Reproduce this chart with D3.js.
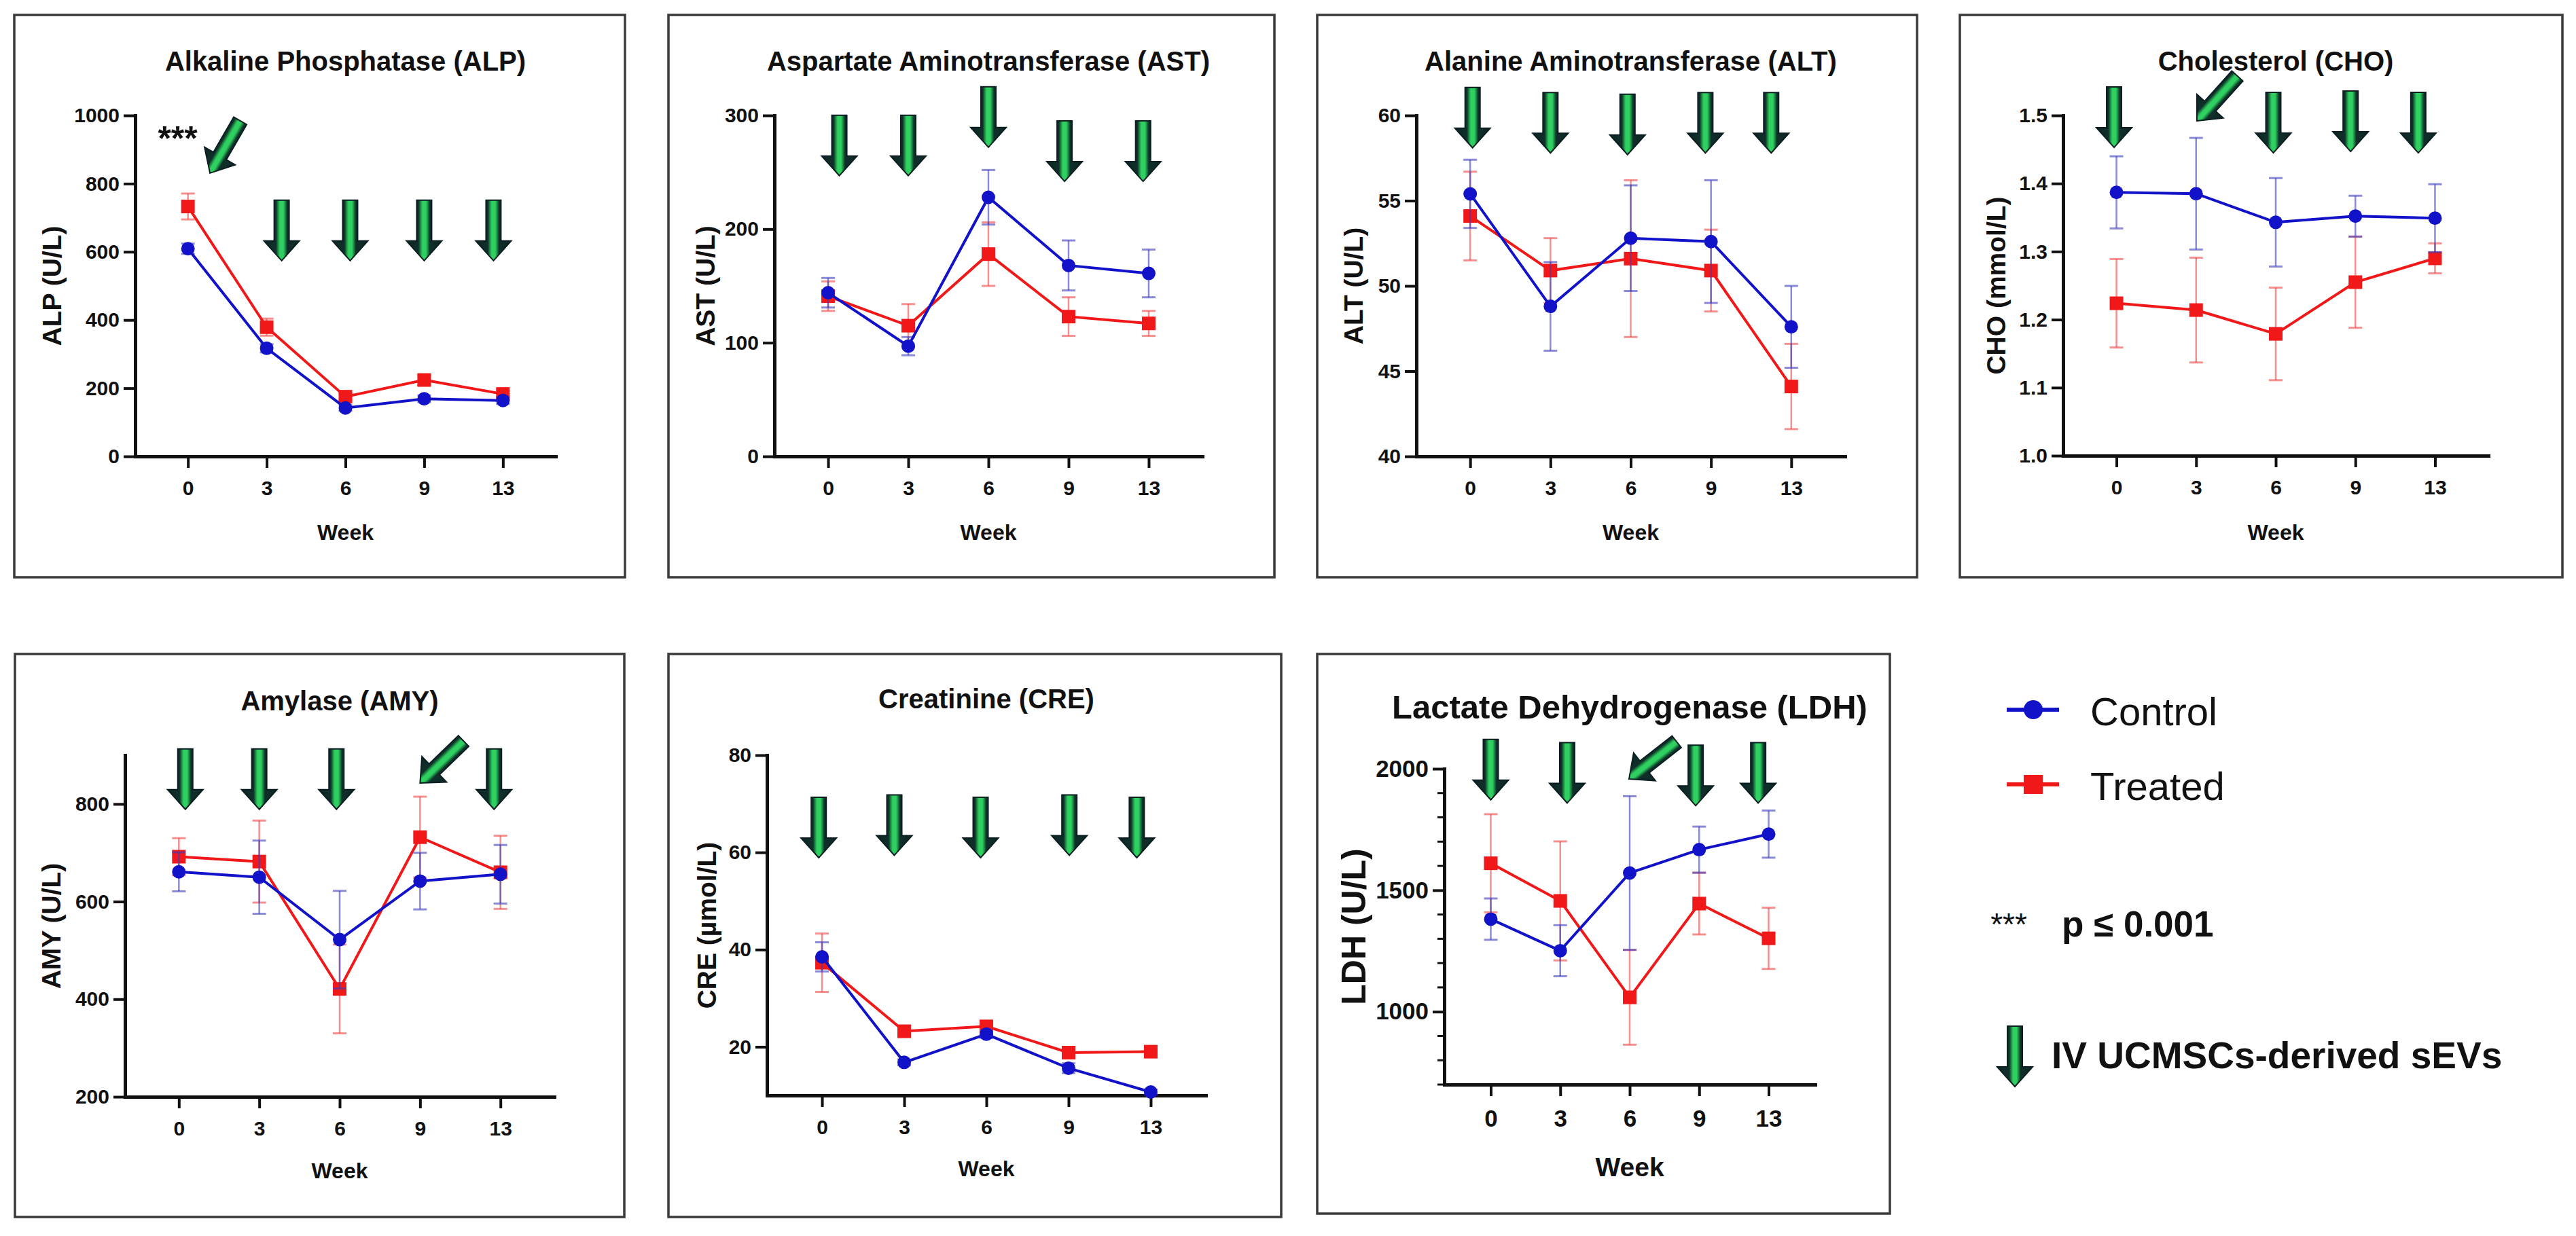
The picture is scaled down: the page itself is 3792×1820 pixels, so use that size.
<!DOCTYPE html>
<html>
<head>
<meta charset="utf-8">
<script src="https://cdn.jsdelivr.net/npm/d3@7"></script>
<style>
  body { margin: 0; background: #fff; }
  svg { display: block; }
</style>
</head>
<body>
<div id="chart"></div>
<script>
// ---- data ----
var weeks = ["0", "3", "6", "9", "13"];

var alpControl = [609, 317, 142, 169, 164];
var alpControlErr = [15, 12, 8, 10, 10];
var alpTreated = [733, 379, 175, 224, 183];
var alpTreatedErr = [38, 25, 10, 14, 10];

var astControl = [144, 97, 228, 168, 161];
var astControlErr = [13, 8, 24, 22, 21];
var astTreated = [141, 115, 178, 123, 117];
var astTreatedErr = [13, 19, 28, 17, 11];

var altControl = [55.4, 48.8, 52.8, 52.6, 47.6];
var altControlErr = [2.0, 2.6, 3.1, 3.6, 2.4];
var altTreated = [54.1, 50.9, 51.6, 50.9, 44.1];
var altTreatedErr = [2.6, 1.9, 4.6, 2.4, 2.5];

var choControl = [1.387, 1.385, 1.343, 1.352, 1.349];
var choControlErr = [0.053, 0.082, 0.065, 0.030, 0.050];
var choTreated = [1.224, 1.214, 1.179, 1.255, 1.290];
var choTreatedErr = [0.065, 0.077, 0.068, 0.067, 0.022];

var amyControl = [661, 650, 522, 642, 656];
var amyControlErr = [40, 75, 100, 58, 60];
var amyTreated = [692, 682, 421, 732, 660];
var amyTreatedErr = [38, 84, 91, 83, 75];

var creControl = [38.5, 16.8, 22.6, 15.6, 10.7];
var creControlErr = [3.0, 0.6, 0.8, 1.0, 0.5];
var creTreated = [37.3, 23.2, 24.2, 18.8, 19.0];
var creTreatedErr = [6.0, 0.8, 0.8, 0.8, 0.6];

var ldhControl = [1381, 1251, 1571, 1667, 1731];
var ldhControlErr = [85, 105, 316, 95, 97];
var ldhTreated = [1611, 1456, 1059, 1445, 1302];
var ldhTreatedErr = [202, 245, 195, 127, 126];

// y tick labels
var alpTicks = [0, 200, 400, 600, 800, 1000];
var astTicks = [0, 100, 200, 300];
var altTicks = [40, 45, 50, 55, 60];
var choTicks = [1.0, 1.1, 1.2, 1.3, 1.4, 1.5];
var amyTicks = [200, 400, 600, 800];
var creTicks = [20, 40, 60, 80];
var ldhTicks = [1000, 1500, 2000];
var ldhMinorTicks = [700, 800, 900, 1100, 1200, 1300, 1400, 1600, 1700, 1800, 1900];

// injection arrows: [week index position, value at arrow tip, rotation]
var alpArrows = [[0.28, 831, 30], [1.19, 574, 0], [2.06, 574, 0], [3.0, 574, 0], [3.88, 574, 0]];
var astArrows = [[0.14, 247, 0], [1.0, 247, 0], [2.0, 272, 0], [2.95, 242, 0], [3.93, 242, 0]];
var altArrows = [[0.03, 58.1, 0], [1.0, 57.8, 0], [1.96, 57.7, 0], [2.93, 57.8, 0], [3.75, 57.8, 0]];
var choArrows = [[-0.03, 1.453, 0], [1.01, 1.492, 42], [1.97, 1.445, 0], [2.94, 1.447, 0], [3.79, 1.445, 0]];
var amyArrows = [[0.08, 789, 0], [1.0, 789, 0], [1.96, 789, 0], [3.0, 843, 46], [3.92, 789, 0]];
var creArrows = [[-0.04, 58.9, 0], [0.88, 59.4, 0], [1.93, 58.9, 0], [3.01, 59.4, 0], [3.83, 58.9, 0]];
var ldhArrows = [[0.0, 1872, 0], [1.1, 1859, 0], [1.99, 1958, 52], [2.95, 1848, 0], [3.85, 1859, 0]];

// significance mark in ALP panel: [week index position, value]
var alpSig = [[-0.13, 956]];

var seriesNames = ["Control", "Treated"];
// ------------------------------------

var FONT = "'Liberation Sans', Arial, Helvetica, sans-serif";
var BLUE = "#1212c8";
var RED = "#f01818";
var BLUE_ERR = "rgba(60,60,190,0.6)";
var RED_ERR = "rgba(240,70,70,0.6)";

var svg = d3.select("#chart").append("svg")
	.attr("width", 3792)
	.attr("height", 1820)
	.style("font-family", FONT);

// dark arrow with a bright green stripe down the middle
var defs = svg.append("defs");
var grad = defs.append("linearGradient").attr("id", "arrowGrad")
	.attr("x1", "0").attr("x2", "1").attr("y1", "0").attr("y2", "0");
[["0%", "#0e2526"], ["34%", "#10302a"], ["41%", "#1f9e48"], ["45%", "#2fcf62"],
 ["55%", "#2fcf62"], ["59%", "#1f9e48"], ["66%", "#10302a"], ["100%", "#0e2526"]].forEach(function(s) {
	grad.append("stop").attr("offset", s[0]).attr("stop-color", s[1]);
});

var arrowPath = "M0,0 L26,-29 L11,-29 L11,-89 L-11,-89 L-11,-29 L-26,-29 Z";

function drawArrow(g, x, y, rot) {
	g.append("path")
		.attr("d", arrowPath)
		.attr("transform", "translate(" + x + "," + y + ") rotate(" + rot + ")")
		.attr("fill", "url(#arrowGrad)")
		.attr("stroke", "#0b1f22")
		.attr("stroke-width", 2);
}

// panel layouts (pixel frames only)
var panels = [
	{ title: "Alkaline Phosphatase (ALP)", ylab: "ALP (U/L)", box: [21, 22, 920, 850], ax: 199, xEnd: 818, yTop: 170, yBot: 672,
	  domain: [0, 1000], ticks: alpTicks, ctrl: alpControl, ctrlErr: alpControlErr, trt: alpTreated, trtErr: alpTreatedErr,
	  arrows: alpArrows, sig: alpSig, yl: -123 },
	{ title: "Aspartate Aminotransferase (AST)", ylab: "AST (U/L)", box: [984, 22, 1876, 850], ax: 1140, xEnd: 1770, yTop: 170, yBot: 672,
	  domain: [0, 300], ticks: astTicks, ctrl: astControl, ctrlErr: astControlErr, trt: astTreated, trtErr: astTreatedErr,
	  arrows: astArrows, yl: -102 },
	{ title: "Alanine Aminotransferase (ALT)", ylab: "ALT (U/L)", box: [1939, 22, 2822, 850], ax: 2085, xEnd: 2716, yTop: 170, yBot: 672,
	  domain: [40, 60], ticks: altTicks, ctrl: altControl, ctrlErr: altControlErr, trt: altTreated, trtErr: altTreatedErr,
	  arrows: altArrows, yl: -93 },
	{ title: "Cholesterol (CHO)", ylab: "CHO (mmol/L)", box: [2885, 22, 3772, 850], ax: 3037, xEnd: 3663, yTop: 170, yBot: 671,
	  domain: [1.0, 1.5], ticks: choTicks, fmt: d3.format(".1f"), ctrl: choControl, ctrlErr: choControlErr, trt: choTreated, trtErr: choTreatedErr,
	  arrows: choArrows, yl: -99 },
	{ title: "Amylase (AMY)", ylab: "AMY (U/L)", box: [22, 963, 919, 1792], ax: 184, xEnd: 816, yTop: 1112, yBot: 1615,
	  domain: [200, 900], ticks: amyTicks, ctrl: amyControl, ctrlErr: amyControlErr, trt: amyTreated, trtErr: amyTreatedErr,
	  arrows: amyArrows, yl: -109, titleY: 1046, weekY: 1735 },
	{ title: "Creatinine (CRE)", ylab: "CRE (µmol/L)", box: [984, 963, 1886, 1792], ax: 1129, xEnd: 1775, yTop: 1112, yBot: 1613,
	  domain: [10, 80], ticks: creTicks, ctrl: creControl, ctrlErr: creControlErr, trt: creTreated, trtErr: creTreatedErr,
	  arrows: creArrows, yl: -89, titleY: 1043, weekY: 1732 },
	{ title: "Lactate Dehydrogenase (LDH)", ylab: "LDH (U/L)", box: [1939, 963, 2782, 1787], ax: 2126, xEnd: 2672, yTop: 1132, yBot: 1597,
	  domain: [700, 2000], ticks: ldhTicks, minor: ldhMinorTicks, ctrl: ldhControl, ctrlErr: ldhControlErr, trt: ldhTreated, trtErr: ldhTreatedErr,
	  arrows: ldhArrows, yl: -134, titleY: 1058, weekY: 1732, big: true }
];

function drawPanel(p) {
	var g = svg.append("g");
	var titleSize = p.big ? 49 : 40;
	var tickSize = p.big ? 35 : 30;
	var weekSize = p.big ? 39 : 32;
	var ylabSize = p.big ? 50 : 39;

	g.append("rect")
		.attr("x", p.box[0]).attr("y", p.box[1])
		.attr("width", p.box[2] - p.box[0]).attr("height", p.box[3] - p.box[1])
		.attr("fill", "none").attr("stroke", "#3a3a3a").attr("stroke-width", 3.5);

	var x = d3.scalePoint().domain(weeks).range([p.ax, p.xEnd]).padding(0.67);
	var y = d3.scaleLinear().domain(p.domain).range([p.yBot, p.yTop]);

	// title
	g.append("text")
		.attr("x", (p.ax + p.xEnd) / 2)
		.attr("y", p.titleY || 104)
		.attr("text-anchor", "middle")
		.attr("font-size", titleSize + "px")
		.attr("font-weight", "bold")
		.attr("fill", "#111")
		.text(p.title);

	// minor ticks (LDH only)
	if (p.minor) {
		g.selectAll(".minor").data(p.minor).enter().append("line")
			.attr("x1", p.ax - 10).attr("x2", p.ax)
			.attr("y1", d => y(d)).attr("y2", d => y(d))
			.attr("stroke", "#111").attr("stroke-width", 3);
	}

	var yAxis = d3.axisLeft(y).tickValues(p.ticks).tickSize(17).tickSizeOuter(0).tickPadding(6)
		.tickFormat(p.fmt || d3.format("d"));
	var ya = g.append("g").attr("transform", "translate(" + p.ax + ",0)").call(yAxis);

	var xAxis = d3.axisBottom(x).tickSize(17).tickSizeOuter(0).tickPadding(p.big ? 20 : 19);
	var xa = g.append("g").attr("transform", "translate(0," + p.yBot + ")").call(xAxis);

	[ya, xa].forEach(function(a) {
		a.select(".domain").attr("stroke", "#111").attr("stroke-width", 5).attr("stroke-linecap", "square");
		a.selectAll(".tick line").attr("stroke", "#111").attr("stroke-width", 4);
		a.selectAll(".tick text")
			.attr("fill", "#111")
			.attr("font-size", tickSize + "px")
			.attr("font-weight", "bold")
			.attr("font-family", FONT);
	});

	// axis titles
	g.append("text")
		.attr("x", (p.ax + p.xEnd) / 2)
		.attr("y", p.weekY || 795)
		.attr("text-anchor", "middle")
		.attr("font-size", weekSize + "px")
		.attr("font-weight", "bold")
		.attr("fill", "#111")
		.text("Week");

	var cy = (p.yTop + p.yBot) / 2;
	g.append("text")
		.attr("transform", "translate(" + (p.ax + p.yl) + "," + cy + ") rotate(-90)")
		.attr("dy", "0.35em")
		.attr("text-anchor", "middle")
		.attr("font-size", ylabSize + "px")
		.attr("font-weight", "bold")
		.attr("fill", "#111")
		.text(p.ylab);

	// arrows
	p.arrows.forEach(function(a) {
		var ax = x(weeks[0]) + a[0] * x.step();
		drawArrow(g, ax, y(a[1]), a[2]);
	});

	if (p.sig) {
		p.sig.forEach(function(s) {
			g.append("text")
				.attr("x", x(weeks[0]) + s[0] * x.step())
				.attr("y", y(s[1]))
				.attr("dy", "0.58em")
				.attr("text-anchor", "middle")
				.attr("font-size", "50px")
				.attr("font-weight", "bold")
				.attr("fill", "#111")
				.text("***");
		});
	}

	// series: treated first, control on top
	var series = [
		{ vals: p.trt, err: p.trtErr, color: RED, errColor: RED_ERR, shape: "square" },
		{ vals: p.ctrl, err: p.ctrlErr, color: BLUE, errColor: BLUE_ERR, shape: "circle" }
	];
	var line = d3.line().x((d, i) => x(weeks[i])).y(d => y(d));

	series.forEach(function(s) {
		var sg = g.append("g");
		var eb = sg.selectAll(".eb").data(s.vals).enter().append("g");
		eb.append("line")
			.attr("x1", (d, i) => x(weeks[i])).attr("x2", (d, i) => x(weeks[i]))
			.attr("y1", (d, i) => y(d - s.err[i])).attr("y2", (d, i) => y(d + s.err[i]))
			.attr("stroke", s.errColor).attr("stroke-width", 2.5);
		eb.append("line")
			.attr("x1", (d, i) => x(weeks[i]) - 10).attr("x2", (d, i) => x(weeks[i]) + 10)
			.attr("y1", (d, i) => y(d + s.err[i])).attr("y2", (d, i) => y(d + s.err[i]))
			.attr("stroke", s.errColor).attr("stroke-width", 3);
		eb.append("line")
			.attr("x1", (d, i) => x(weeks[i]) - 10).attr("x2", (d, i) => x(weeks[i]) + 10)
			.attr("y1", (d, i) => y(d - s.err[i])).attr("y2", (d, i) => y(d - s.err[i]))
			.attr("stroke", s.errColor).attr("stroke-width", 3);

		sg.append("path")
			.datum(s.vals)
			.attr("d", line)
			.attr("fill", "none")
			.attr("stroke", s.color)
			.attr("stroke-width", 4);

		if (s.shape == "circle") {
			sg.selectAll(".pt").data(s.vals).enter().append("circle")
				.attr("cx", (d, i) => x(weeks[i]))
				.attr("cy", d => y(d))
				.attr("r", 10)
				.attr("fill", s.color);
		} else {
			sg.selectAll(".pt").data(s.vals).enter().append("rect")
				.attr("x", (d, i) => x(weeks[i]) - 10)
				.attr("y", d => y(d) - 10)
				.attr("width", 20).attr("height", 20)
				.attr("fill", s.color);
		}
	});
}

panels.forEach(drawPanel);

// ---- legend ----
var lg = svg.append("g");
var legendRows = [
	{ name: seriesNames[0], color: BLUE, shape: "circle", y: 1045 },
	{ name: seriesNames[1], color: RED, shape: "square", y: 1155 }
];
legendRows.forEach(function(r) {
	lg.append("line")
		.attr("x1", 2954).attr("x2", 3031)
		.attr("y1", r.y).attr("y2", r.y)
		.attr("stroke", r.color).attr("stroke-width", 6);
	if (r.shape == "circle") {
		lg.append("circle").attr("cx", 2993).attr("cy", r.y).attr("r", 14).attr("fill", r.color);
	} else {
		lg.append("rect").attr("x", 2993 - 14).attr("y", r.y - 14).attr("width", 28).attr("height", 28).attr("fill", r.color);
	}
	lg.append("text")
		.attr("x", 3077).attr("y", r.y + 23)
		.attr("font-size", "58px")
		.attr("fill", "#111")
		.text(r.name);
});

lg.append("text")
	.attr("x", 2957).attr("y", 1350)
	.attr("dy", "0.58em")
	.attr("text-anchor", "middle")
	.attr("font-size", "46px")
	.attr("fill", "#111")
	.text("***");
lg.append("text")
	.attr("x", 3035).attr("y", 1379)
	.attr("font-size", "53px")
	.attr("font-weight", "bold")
	.attr("fill", "#111")
	.text("p \u2264 0.001");

drawArrow(lg, 2966, 1600, 0);
lg.append("text")
	.attr("x", 3020).attr("y", 1573)
	.attr("font-size", "55px")
	.attr("font-weight", "bold")
	.attr("fill", "#111")
	.text("IV UCMSCs-derived sEVs");
</script>
</body>
</html>
